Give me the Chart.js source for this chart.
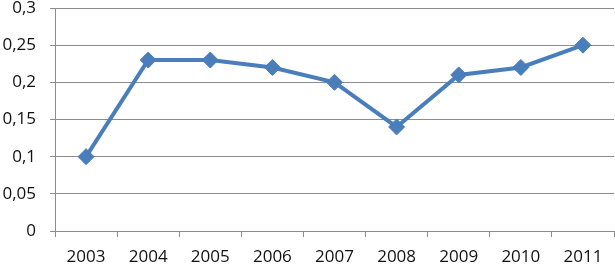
<!DOCTYPE html>
<html>
<head>
<meta charset="utf-8">
<script src="https://cdn.jsdelivr.net/npm/chart.js@4"></script>
<style>
  html, body { margin: 0; padding: 0; background: #fff; }
  #wrap { width: 615px; height: 265px; position: relative; }
</style>
</head>
<body>
<div id="wrap"><canvas id="lineChart"></canvas></div>
<script>
// values
const years = ['2003', '2004', '2005', '2006', '2007', '2008', '2009', '2010', '2011'];
const values = [0.1, 0.23, 0.23, 0.22, 0.2, 0.14, 0.21, 0.22, 0.25];
const yMin = 0;
const yMax = 0.3;
const yStep = 0.05;

const gridGray = '#8c8c8c';
const lineBlue = '#4a7ebb';

Chart.defaults.font.family = '"Open Sans", "Liberation Sans", sans-serif';
Chart.defaults.font.size = 17;
Chart.defaults.color = '#111';

// drop the automatic label padding so the plot fills the canvas like the original
function noPad(s) {
  s.paddingTop = 0;
  s.paddingBottom = 0;
  s.paddingLeft = 0;
  s.paddingRight = 0;
}

const ctx = document.getElementById('lineChart').getContext('2d');
new Chart(ctx, {
  type: 'line',
  data: {
    labels: years,
    datasets: [{
      data: values,
      borderColor: lineBlue,
      backgroundColor: lineBlue,
      borderWidth: 4,
      pointStyle: 'rectRot',
      pointRadius: 8,
      pointBorderWidth: 1,
      tension: 0
    }]
  },
  options: {
    responsive: true,
    maintainAspectRatio: false,
    animation: false,
    layout: { autoPadding: false, padding: { top: 8, right: 1, left: 0, bottom: 0 } },
    plugins: { legend: { display: false }, tooltip: { enabled: false } },
    scales: {
      x: {
        offset: true,
        grid: { offset: true, drawOnChartArea: false, color: gridGray, tickLength: 6 },
        border: { color: gridGray },
        ticks: { padding: 10, maxRotation: 0 },
        afterFit: (s) => { s.height = 34; noPad(s); }
      },
      y: {
        min: yMin,
        max: yMax,
        ticks: {
          stepSize: yStep,
          padding: 14,
          callback: (v) => String(Math.round(v * 100) / 100).replace('.', ',')
        },
        grid: { color: gridGray, tickLength: 5 },
        border: { color: gridGray },
        afterFit: (s) => { s.width = 55; noPad(s); }
      }
    }
  }
});
</script>
</body>
</html>
